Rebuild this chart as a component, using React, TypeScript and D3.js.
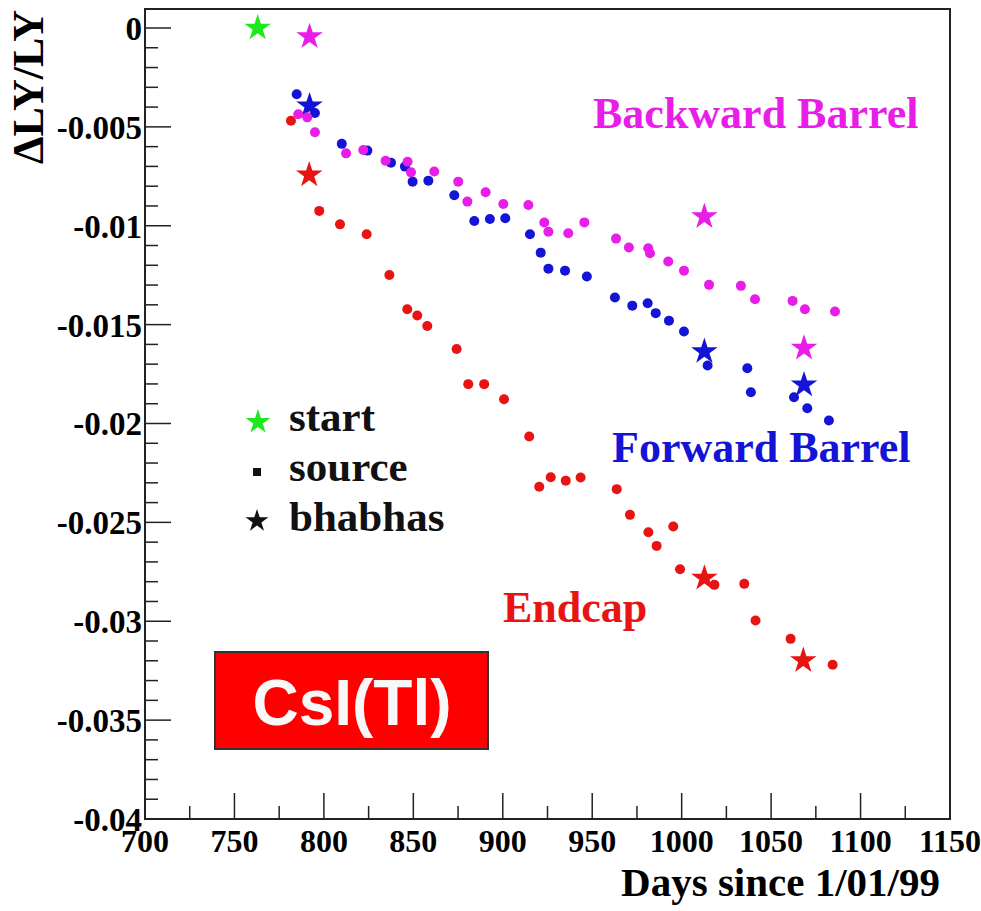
import React from "react";
import * as d3 from "d3";

// days since 1/01/99 and relative light yield change
const startDays = [763];
const startVals = [0];

const bwDays = [785.7, 790.7, 795, 812.4, 822, 834.5, 846.8, 848.7, 861.7, 875.1, 880.2, 890.4, 900.3, 914.3, 923.2, 925.5, 936.6, 945.6, 963.3, 970.5, 981.3, 982.3, 992.5, 1001.3, 1015.3, 1033.1, 1041, 1062, 1068.9, 1085.7];
const bwVals = [-0.00436, -0.00452, -0.00527, -0.00634, -0.00617, -0.00671, -0.00676, -0.0073, -0.00726, -0.00777, -0.00878, -0.00831, -0.0089, -0.00895, -0.00984, -0.0103, -0.01038, -0.00983, -0.01065, -0.0111, -0.01114, -0.01139, -0.01181, -0.01227, -0.01299, -0.01304, -0.01372, -0.0138, -0.01422, -0.01434];
const bwStarDays = [792, 1012.7, 1068.4];
const bwStarVals = [-0.00044, -0.00954, -0.01619];

const fwDays = [784.8, 795, 810, 824.3, 837.5, 845.3, 849.6, 858.4, 872.9, 884.1, 892.8, 901.4, 915.2, 921.2, 925.5, 934.8, 947, 962.7, 972.4, 981, 985.5, 992.9, 1001.3, 1014.5, 1036.7, 1038.7, 1062.8, 1070.2, 1082.3];
const fwVals = [-0.00335, -0.0043, -0.00586, -0.0062, -0.00681, -0.00701, -0.00777, -0.00772, -0.00846, -0.00976, -0.00966, -0.00962, -0.01043, -0.01136, -0.01217, -0.01227, -0.01257, -0.01363, -0.01404, -0.01392, -0.01442, -0.0148, -0.01535, -0.01707, -0.01721, -0.01842, -0.01867, -0.01923, -0.01985];
const fwStarDays = [792, 1012.7, 1068.4];
const fwStarVals = [-0.00394, -0.01636, -0.01805];

const ecDays = [781.6, 797.4, 809, 823.9, 836.6, 846.6, 852.2, 857.8, 874.2, 880.7, 889.6, 900.7, 914.8, 920.4, 926.8, 935.2, 943.5, 963.7, 971.1, 981.4, 986, 995.3, 999.1, 1018.3, 1035, 1041.3, 1060.9, 1084.4];
const ecVals = [-0.00469, -0.00925, -0.00993, -0.01043, -0.01249, -0.01422, -0.01454, -0.01507, -0.01623, -0.01801, -0.01801, -0.01877, -0.02066, -0.0232, -0.02272, -0.02289, -0.02273, -0.02332, -0.02462, -0.0255, -0.02619, -0.02521, -0.02737, -0.02816, -0.02811, -0.02996, -0.03089, -0.0322];
const ecStarDays = [791.8, 1012.7, 1068];
const ecStarVals = [-0.00743, -0.02782, -0.03199];

const xTicks = [700, 750, 800, 850, 900, 950, 1000, 1050, 1100, 1150];
const xTickLabels = ["700", "750", "800", "850", "900", "950", "1000", "1050", "1100", "1150"];
const yTicks = [0, -0.005, -0.01, -0.015, -0.02, -0.025, -0.03, -0.035, -0.04];
const yTickLabels = ["0", "-0.005", "-0.01", "-0.015", "-0.02", "-0.025", "-0.03", "-0.035", "-0.04"];

const MAGENTA = "#e81ee8";
const BLUE = "#1414d6";
const RED = "#e81414";
const GREEN = "#1ee81e";

const App = () => {
  const width = 981;
  const height = 911;
  const margin = { top: 9, right: 31, bottom: 92, left: 145 };
  const svgRef = React.useRef(null);

  React.useEffect(() => {
    document.body.style.margin = "0";

    const x = d3.scaleLinear().domain([700, 1150]).range([margin.left, width - margin.right]);
    const y = d3.scaleLinear().domain([-0.04, 0.00096]).range([height - margin.bottom, margin.top]);

    const svgEl = d3.select(svgRef.current);
    svgEl.selectAll("*").remove();
    const svg = svgEl.append("g");

    const serif = "'Liberation Serif', 'Times New Roman', serif";
    const x0 = x.range()[0], x1 = x.range()[1];
    const yb = y.range()[0], yt = y.range()[1];

    // frame
    svg.append("rect")
      .attr("x", x0).attr("y", yt)
      .attr("width", x1 - x0).attr("height", yb - yt)
      .attr("fill", "none").attr("stroke", "#222").attr("stroke-width", 2);

    // y ticks (major 0.005, minor 0.001), drawn inward
    const yMinor = d3.range(0, 41).map((i) => -i * 0.001);
    svg.append("g").selectAll("line").data(yMinor).join("line")
      .attr("x1", x0).attr("x2", (d, i) => x0 + (i % 5 === 0 ? 26 : 13))
      .attr("y1", (d) => y(d)).attr("y2", (d) => y(d))
      .attr("stroke", "#222").attr("stroke-width", 1.5);

    svg.append("g").selectAll("text").data(yTicks).join("text")
      .attr("x", x0 - 3).attr("y", (d) => y(d) + 12)
      .attr("text-anchor", "end")
      .attr("font-family", serif).attr("font-weight", "bold").attr("font-size", 33)
      .text((d, i) => yTickLabels[i]);

    // x ticks (major 50, minor 25)
    const xMinor = d3.range(0, 19).map((i) => 700 + i * 25);
    svg.append("g").selectAll("line").data(xMinor).join("line")
      .attr("x1", (d) => x(d)).attr("x2", (d) => x(d))
      .attr("y1", yb).attr("y2", (d, i) => yb - (i % 2 === 0 ? 26 : 13))
      .attr("stroke", "#222").attr("stroke-width", 1.5);

    svg.append("g").selectAll("text").data(xTicks).join("text")
      .attr("x", (d) => x(d)).attr("y", yb + 33)
      .attr("text-anchor", "middle")
      .attr("font-family", serif).attr("font-weight", "bold").attr("font-size", 32)
      .text((d, i) => xTickLabels[i]);

    // axis titles
    svg.append("text")
      .attr("x", 940).attr("y", 896)
      .attr("text-anchor", "end")
      .attr("font-family", serif).attr("font-weight", "bold").attr("font-size", 41)
      .text("Days since 1/01/99");

    svg.append("text")
      .attr("transform", "translate(43,10) rotate(-90)")
      .attr("text-anchor", "end")
      .attr("font-family", serif).attr("font-weight", "bold").attr("font-size", 44)
      .text("ΔLY/LY");

    const star = (r) => d3.symbol().type(d3.symbolStar).size((r * r) / 0.8908130915292852)();

    const drawSeries = (days, vals, starDays, starVals, color) => {
      const g = svg.append("g");
      g.selectAll("circle").data(days).join("circle")
        .attr("cx", (d) => x(d)).attr("cy", (d, i) => y(vals[i]))
        .attr("r", 5).attr("fill", color);
      g.selectAll("path").data(starDays).join("path")
        .attr("transform", (d, i) => `translate(${x(d)},${y(starVals[i])})`)
        .attr("d", star(14)).attr("fill", color);
    };

    drawSeries(ecDays, ecVals, ecStarDays, ecStarVals, RED);
    drawSeries(fwDays, fwVals, fwStarDays, fwStarVals, BLUE);
    drawSeries(bwDays, bwVals, bwStarDays, bwStarVals, MAGENTA);

    svg.append("g").selectAll("path").data(startDays).join("path")
      .attr("transform", (d, i) => `translate(${x(d)},${y(startVals[i])})`)
      .attr("d", star(14)).attr("fill", GREEN);

    // series labels
    const labels = [
      { text: "Backward Barrel", x: 593, y: 128, color: MAGENTA },
      { text: "Forward Barrel", x: 612, y: 462, color: BLUE },
      { text: "Endcap", x: 503, y: 622, color: RED },
    ];
    svg.append("g").selectAll("text").data(labels).join("text")
      .attr("x", (d) => d.x).attr("y", (d) => d.y)
      .attr("font-family", serif).attr("font-weight", "bold").attr("font-size", 44)
      .attr("fill", (d) => d.color)
      .text((d) => d.text);

    // legend
    const lg = svg.append("g");
    lg.append("path").attr("transform", "translate(258,422)").attr("d", star(13)).attr("fill", GREEN);
    lg.append("rect").attr("x", 253).attr("y", 468).attr("width", 8).attr("height", 8).attr("fill", "#111");
    lg.append("path").attr("transform", "translate(257,521)").attr("d", star(12)).attr("fill", "#111");
    const legendText = ["start", "source", "bhabhas"];
    lg.selectAll("text").data(legendText).join("text")
      .attr("x", 289).attr("y", (d, i) => 431 + i * 50)
      .attr("font-family", serif).attr("font-weight", "bold").attr("font-size", 43)
      .attr("fill", "#111")
      .text((d) => d);

    // CsI(Tl) box
    svg.append("rect")
      .attr("x", 215).attr("y", 652).attr("width", 273).attr("height", 97)
      .attr("fill", "#ff0000").attr("stroke", "#333").attr("stroke-width", 2);
    svg.append("text")
      .attr("x", 352).attr("y", 725)
      .attr("text-anchor", "middle")
      .attr("font-family", "'Liberation Sans', Arial, sans-serif").attr("font-weight", "bold").attr("font-size", 64)
      .attr("fill", "#f8f8f8")
      .text("CsI(Tl)");
  }, []);

  return <svg ref={svgRef} width={width} height={height} style={{ display: "block", background: "#fff" }} />;
};

export default App;
